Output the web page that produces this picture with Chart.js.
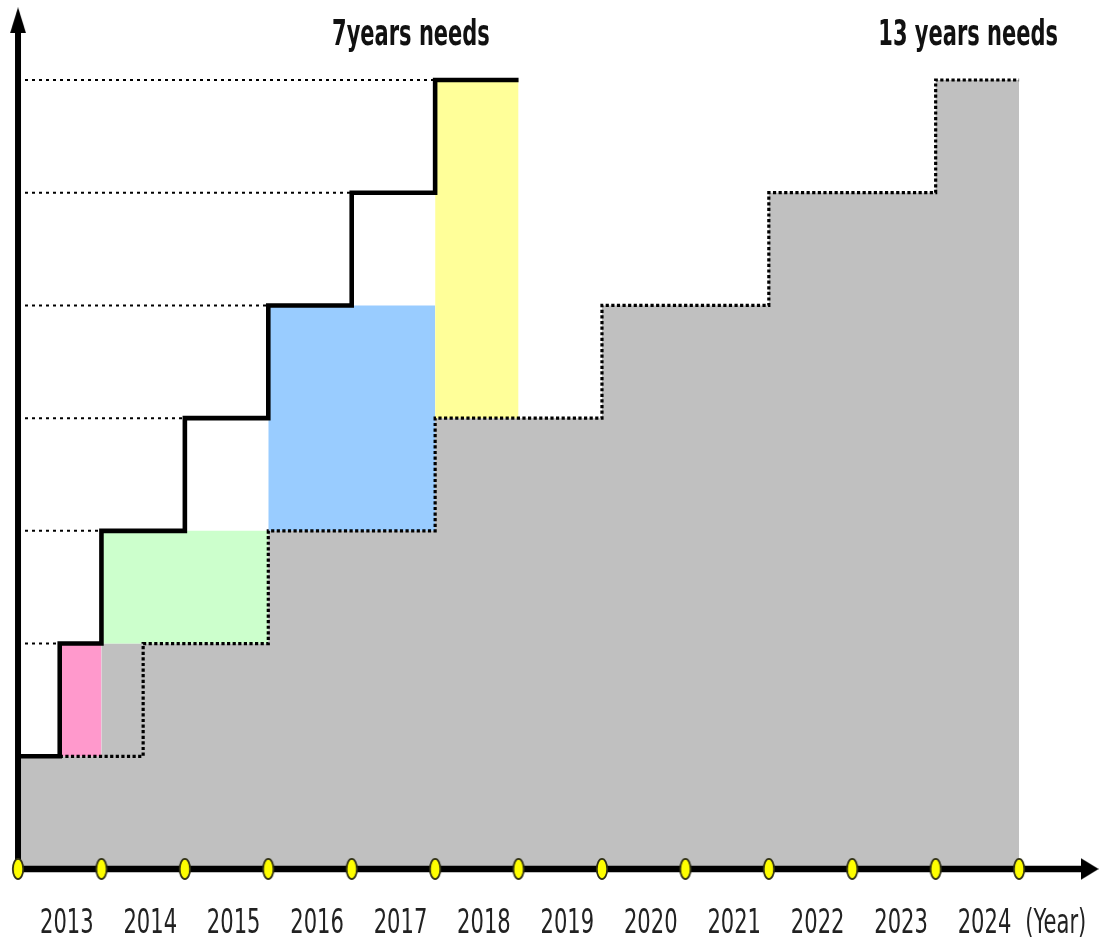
<!DOCTYPE html>
<html><head><meta charset="utf-8">
<script src="https://cdn.jsdelivr.net/npm/chart.js@4/dist/chart.umd.min.js"></script>
<style>html,body{margin:0;padding:0;background:#fff;overflow:hidden}canvas{display:block}</style>
</head><body>
<canvas id="c" width="1099" height="941"></canvas>
<script>
// ---------- data ----------
const years = ['2013','2014','2015','2016','2017','2018','2019','2020','2021','2022','2023','2024'];
const unitLabel = '(Year)';
const yearTicks = [0,1,2,3,4,5,6,7,8,9,10,11,12];
const levels = [1,2,3,4,5,6,7];
const fastStepX = [0,0.5,1,2,3,4,5,6];        // 7-year path: start, step-ups, end
const slowStepX = [0.5,1.5,3,5,7,9,11,12];    // 13-year dotted path
const grayTopX = [0,1,3,5,7,9,11,12];         // grey area outline
const bandX0 = [0.5,1,3,5];
const bandX1 = [1,3,5,6];
const bandLow = [1,2,3,4];
const bandHigh = [2,3,5,7];
const titleTexts = ['7years needs','13 years needs'];

// ---------- helpers ----------
function stepPath(xs, lv){
  const pts = [{x:xs[0], y:lv[0]}];
  for (let k=1;k<xs.length-1;k++){
    pts.push({x:xs[k], y:lv[k-1]});
    pts.push({x:xs[k], y:lv[k]});
  }
  pts.push({x:xs[xs.length-1], y:lv[lv.length-1]});
  return pts;
}

function makeDot(){
  const c = document.createElement('canvas'); c.width = 14; c.height = 24;
  const g = c.getContext('2d');
  g.beginPath(); g.ellipse(7,12,5.2,10.2,0,0,Math.PI*2);
  g.fillStyle = '#ffff00'; g.fill();
  g.lineWidth = 1.8; g.strokeStyle = '#2e2e14'; g.stroke();
  return c;
}
function makeUpArrow(){
  const c = document.createElement('canvas'); c.width = 16; c.height = 26;
  const g = c.getContext('2d');
  g.beginPath(); g.moveTo(8,0); g.lineTo(16,26); g.lineTo(0,26); g.closePath();
  g.fillStyle = '#000'; g.fill();
  return c;
}
function makeRightArrow(){
  const c = document.createElement('canvas'); c.width = 18; c.height = 22;
  const g = c.getContext('2d');
  g.beginPath(); g.moveTo(18,11); g.lineTo(0,0); g.lineTo(0,22); g.closePath();
  g.fillStyle = '#000'; g.fill();
  return c;
}

const bandColors = ['#ff99cc','#ccffcc','#99ccff','#ffff99'];
const datasets = [];

// grey area
datasets.push({data: stepPath(grayTopX, levels), fill:'origin', backgroundColor:'#c0c0c0', borderWidth:0, order:6});
// coloured bands
bandX0.forEach((x0,i)=>{
  datasets.push({data:[{x:x0,y:bandHigh[i]},{x:bandX1[i],y:bandHigh[i]}], fill:{value:bandLow[i]},
    backgroundColor:bandColors[i], borderWidth:0, order:5});
});
// thin dotted guide lines
levels.slice(1).forEach((lv,k)=>{
  datasets.push({data:[{x:0,y:lv},{x:fastStepX[k+1],y:lv}], borderColor:'#000', borderWidth:2,
    borderDash:[3,4], order:4});
});
// dotted 13-year path
datasets.push({data: stepPath(slowStepX, levels), borderColor:'#000', borderWidth:3.2, borderDash:[3.2,2.4], order:3});
// solid 7-year path
datasets.push({data: stepPath(fastStepX, levels), borderColor:'#000', borderWidth:4.6, order:2});
// axes
const xEnd = 12.845, yEnd = 7.53;
datasets.push({data:[{x:-0.035,y:0},{x:xEnd,y:0}], borderColor:'#000', borderWidth:6.5, order:1});
datasets.push({data:[{x:0,y:0},{x:0,y:yEnd}], borderColor:'#000', borderWidth:6, order:1});
datasets.push({data:[{x:xEnd,y:0}], showLine:false, pointStyle:makeRightArrow(), pointRadius:12, order:0, clip:false});
datasets.push({data:[{x:0,y:yEnd}], showLine:false, pointStyle:makeUpArrow(), pointRadius:12, order:0, clip:false});
// yellow markers
datasets.push({data: yearTicks.map(x=>({x, y:0})), showLine:false, pointStyle:makeDot(), pointRadius:8, order:0, clip:false});

// text (year labels and titles), positioned from the x scale, drawn horizontally condensed
const textPlugin = {
  id:'texts',
  afterDraw(chart){
    const ctx = chart.ctx, xs = chart.scales.x;
    const drawSq = (txt, cx, baseY, font, sx, color) => {
      ctx.save();
      ctx.font = font; ctx.fillStyle = color;
      ctx.textAlign = 'center'; ctx.textBaseline = 'alphabetic';
      ctx.translate(cx, baseY); ctx.scale(sx, 1);
      ctx.fillText(txt, 0, 0);
      ctx.restore();
    };
    const labelFont = '34px "DejaVu Sans", sans-serif';
    years.forEach((y,i)=>{
      drawSq(y, xs.getPixelForValue(yearTicks[i] + 0.585), 933, labelFont, 0.62, '#222');
    });
    drawSq(unitLabel, xs.getPixelForValue(12.44), 933, labelFont, 0.62, '#222');
    const titleFont = 'bold 35px "DejaVu Sans", sans-serif';
    drawSq(titleTexts[0], xs.getPixelForValue(4.71), 45, titleFont, 0.6, '#111');
    drawSq(titleTexts[1], xs.getPixelForValue(11.39), 45, titleFont, 0.6, '#111');
  }
};

new Chart(document.getElementById('c'), {
  type:'line',
  data:{datasets},
  options:{
    responsive:false, animation:false, events:[],
    layout:{autoPadding:false, padding:{top:6.74, right:9, left:0, bottom:60.73}},
    elements:{line:{tension:0, fill:false, borderCapStyle:'butt', borderJoinStyle:'miter'}, point:{radius:0, hoverRadius:0, borderWidth:0}},
    plugins:{legend:{display:false}, tooltip:{enabled:false}},
    scales:{
      x:{type:'linear', display:false, min:-0.216, max:12.85},
      y:{type:'linear', display:false, min:-0.1, max:7.65}
    }
  },
  plugins:[textPlugin]
});
</script>
</body></html>
